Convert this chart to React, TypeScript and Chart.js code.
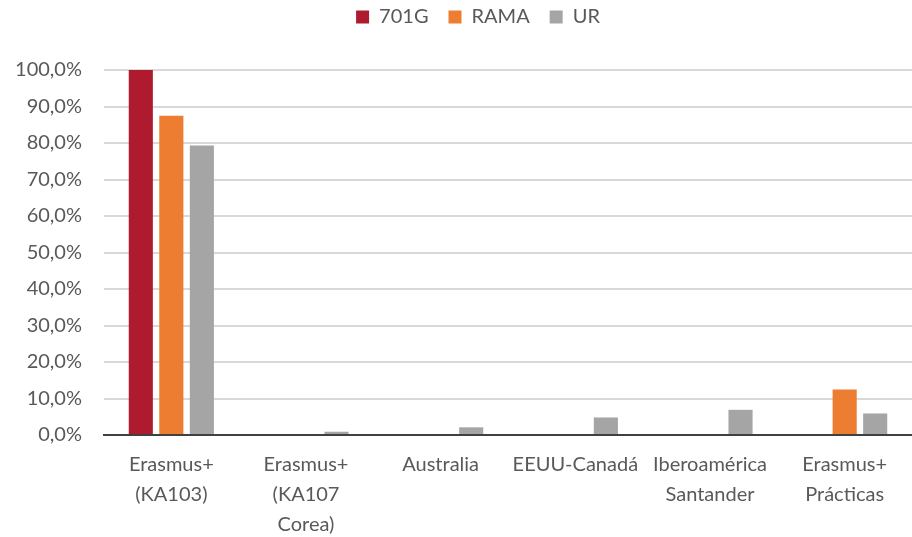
import React, { useEffect, useRef } from "react";
import { Chart, registerables } from "chart.js";

Chart.register(...registerables);

const categories: (string | string[])[] = [
  ["Erasmus+", "(KA103)"],
  ["Erasmus+", "(KA107", "Corea)"],
  "Australia",
  "EEUU-Canadá",
  ["Iberoamérica", "Santander"],
  ["Erasmus+", "Prácticas"],
];
const series701G = [100, 0, 0, 0, 0, 0];
const seriesRAMA = [87.5, 0, 0, 0, 0, 12.5];
const seriesUR = [79.3, 0.9, 2.1, 4.8, 6.9, 5.9];

const legendHeightPlugin = {
  id: "legendHeight",
  beforeInit(chart: any) {
    const legend = chart.legend;
    if (!legend) return;
    const orig = legend.fit;
    legend.fit = function () {
      orig.call(this);
      this.height = 70;
    };
  },
  afterLayout(chart: any) {
    const lg = chart.legend;
    if (lg) {
      lg.top = -13;
      lg.left += 22;
      lg.right += 22;
    }
  },
};

export default function App() {
  const ref = useRef<HTMLCanvasElement>(null);
  useEffect(() => {
    if (!ref.current) return;
    const font = "Lato, 'Open Sans', sans-serif";
    const chart = new Chart(ref.current, {
      type: "bar",
      data: {
        labels: categories,
        datasets: [
          { label: "701G", data: series701G, backgroundColor: "#AE1B2E" },
          { label: "RAMA", data: seriesRAMA, backgroundColor: "#ED7D31" },
          { label: "UR", data: seriesUR, backgroundColor: "#A5A5A5" },
        ],
      },
      plugins: [legendHeightPlugin],
      options: {
        responsive: false,
        animation: false,
        maintainAspectRatio: false,
        layout: { padding: { top: 0, right: 0, left: 0, bottom: 0 } },
        datasets: { bar: { categoryPercentage: 0.68, barPercentage: 0.79 } },
        plugins: {
          legend: {
            position: "top",
            labels: {
              boxWidth: 13,
              boxHeight: 13,
              color: "#595959",
              font: { family: font, size: 20 },
              padding: 20,
            },
          },
          tooltip: { enabled: false },
        },
        scales: {
          x: {
            grid: { display: false, drawTicks: false },
            border: { display: true, color: "#404040", width: 2 },
            afterFit: (s: any) => {
              s.height = 102;
            },
            ticks: {
              color: "#595959",
              font: { family: font, size: 20, lineHeight: 1.5 },
              maxRotation: 0,
              autoSkip: false,
              padding: 15,
            },
          },
          y: {
            min: 0,
            max: 100,
            afterFit: (s: any) => {
              s.width = 104;
            },
            grid: { color: "#D9D9D9", lineWidth: 2, drawTicks: false },
            border: { display: false },
            ticks: {
              stepSize: 10,
              color: "#595959",
              font: { family: font, size: 20 },
              padding: 22,
              callback: (v: any) => Number(v).toFixed(1).replace(".", ",") + "%",
            },
          },
        },
      },
    });
    return () => chart.destroy();
  }, []);
  return (
    <div style={{ position: "fixed", left: 0, top: 0, width: 912, height: 537, background: "#fff" }}>
      <canvas ref={ref} width={912} height={537} />
    </div>
  );
}
